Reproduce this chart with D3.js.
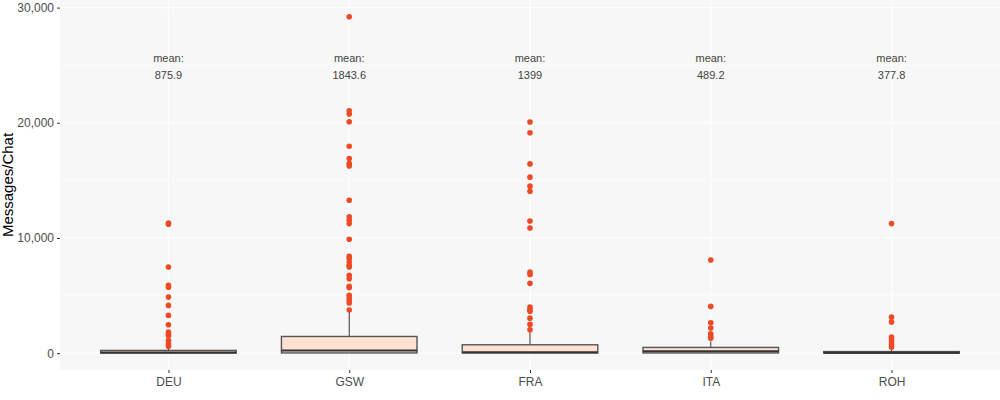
<!DOCTYPE html>
<html><head><meta charset="utf-8">
<script src="https://cdn.jsdelivr.net/npm/d3@7"></script>
<style>body{margin:0;background:#fff}svg{display:block}</style>
</head><body>
<svg id="chart" width="1000" height="400"></svg>
<script>
// ---- data ----
const categories = ["DEU", "GSW", "FRA", "ITA", "ROH"];
const means = [875.9, 1843.6, 1399, 489.2, 377.8];
const q1 = [10, 20, 15, 20, 5];
const medians = [60, 230, 90, 170, 40];
const q3 = [240, 1450, 730, 500, 140];
const whiskerLow = [0, 0, 0, 0, 0];
const whiskerHigh = [560, 3600, 1830, 1020, 480];
const outliersDEU = [11300, 11190, 7480, 5900, 5720, 4870, 4150, 3280, 2470, 1830, 1690, 1510, 1100, 820, 610];
const outliersGSW = [29200, 21040, 20760, 20090, 17970, 16900, 16470, 16260, 13280, 11830, 11540, 11250, 9890, 8410, 8210, 7910, 7630, 7480, 6760, 6470, 5800, 5690, 5020, 4780, 4580, 4350, 3750];
const outliersFRA = [20070, 19130, 16430, 15280, 14500, 14060, 11480, 10870, 7040, 6840, 6060, 4000, 3800, 3650, 3040, 2500, 2030];
const outliersITA = [8090, 4060, 2640, 2180, 1690, 1480, 1300];
const outliersROH = [11250, 3130, 2700, 1390, 1160, 960, 760, 520];
const outliers = [outliersDEU, outliersGSW, outliersFRA, outliersITA, outliersROH];
const yTicks = [0, 10000, 20000, 30000];
const yMinorTicks = [5000, 15000, 25000];
const yDomain = [-1460, 30660];
const labelY = 25000;

// ---- layout ----
const svg = d3.select("#chart");
const pLeft = 60, pRight = 1000, pTop = 0, pBottom = 370;
const x = d3.scalePoint().domain(categories).range([pLeft, pRight]).padding(0.6);
const y = d3.scaleLinear().domain(yDomain).range([pBottom, pTop]);
const bw = x.step() * 0.75;
const font = "Liberation Sans, Arial, sans-serif";

svg.append("rect").attr("x", pLeft).attr("y", pTop).attr("width", pRight - pLeft).attr("height", pBottom - pTop).attr("fill", "#F7F7F7");

// grid
svg.append("g").selectAll("line").data(yMinorTicks).join("line")
  .attr("x1", pLeft).attr("x2", pRight).attr("y1", d => y(d)).attr("y2", d => y(d))
  .attr("stroke", "#fff").attr("stroke-width", 0.6);
svg.append("g").selectAll("line").data(yTicks).join("line")
  .attr("x1", pLeft).attr("x2", pRight).attr("y1", d => y(d)).attr("y2", d => y(d))
  .attr("stroke", "#fff").attr("stroke-width", 1.2);
svg.append("g").selectAll("line").data(categories).join("line")
  .attr("x1", d => x(d)).attr("x2", d => x(d)).attr("y1", pTop).attr("y2", pBottom)
  .attr("stroke", "#fff").attr("stroke-width", 1.2);

// axes
const yAxis = svg.append("g").attr("transform", `translate(${pLeft},0)`)
  .call(d3.axisLeft(y).tickValues(yTicks).tickSize(3).tickPadding(3).tickFormat(d3.format(",")));
const xAxis = svg.append("g").attr("transform", `translate(0,${pBottom})`)
  .call(d3.axisBottom(x).tickSize(3).tickPadding(4));
[yAxis, xAxis].forEach(a => {
  a.select(".domain").remove();
  a.selectAll(".tick line").attr("stroke", "#333");
  a.selectAll(".tick text").attr("fill", "#4D4D4D").attr("font-size", 12).attr("font-family", font);
});

svg.append("text").attr("transform", `translate(13,${(pTop + pBottom) / 2}) rotate(-90)`)
  .attr("text-anchor", "middle").attr("font-size", 15).attr("font-family", font)
  .attr("fill", "#000").text("Messages/Chat");

// boxes
const g = svg.append("g");
categories.forEach((c, i) => {
  const cx = x(c);
  g.append("line").attr("x1", cx).attr("x2", cx).attr("y1", y(q3[i])).attr("y2", y(whiskerHigh[i])).attr("stroke", "#333").attr("stroke-width", 1);
  g.append("line").attr("x1", cx).attr("x2", cx).attr("y1", y(q1[i])).attr("y2", y(whiskerLow[i])).attr("stroke", "#333").attr("stroke-width", 1);
  g.append("rect").attr("x", cx - bw / 2).attr("width", bw).attr("y", y(q3[i])).attr("height", Math.max(0, y(q1[i]) - y(q3[i])))
    .attr("fill", "#FDE1D2").attr("stroke", "#555").attr("stroke-width", 1.4);
  g.append("line").attr("x1", cx - bw / 2).attr("x2", cx + bw / 2).attr("y1", y(medians[i])).attr("y2", y(medians[i])).attr("stroke", "#333").attr("stroke-width", 2);
  g.selectAll(null).data(outliers[i]).join("circle")
    .attr("cx", cx).attr("cy", d => y(d)).attr("r", 2.8).attr("fill", "#EE4A24");
  const t = g.append("text").attr("x", cx).attr("y", y(labelY)).attr("text-anchor", "middle")
    .attr("font-size", 11).attr("font-family", font).attr("fill", "#444");
  t.append("tspan").attr("x", cx).attr("dy", -3).text("mean:");
  t.append("tspan").attr("x", cx).attr("dy", 17).text(String(means[i]));
});
</script>
</body></html>
